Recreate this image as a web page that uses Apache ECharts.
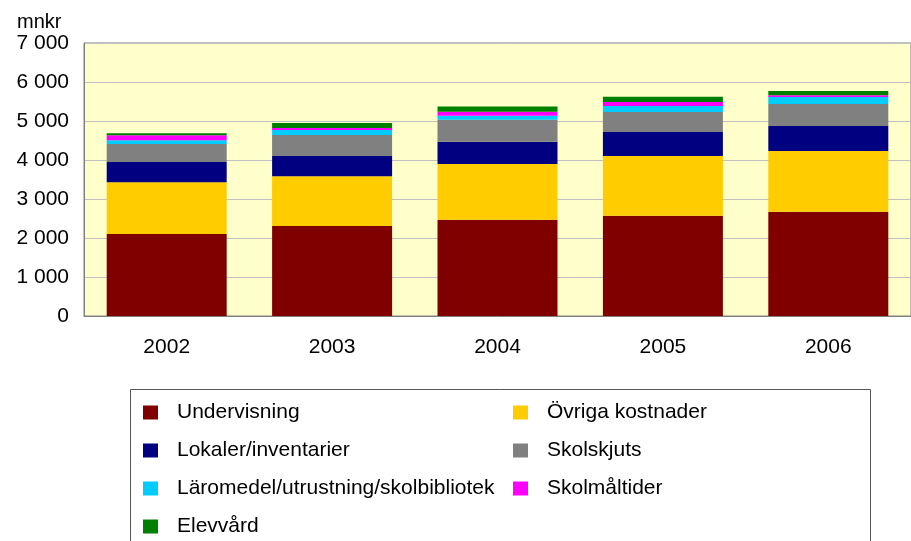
<!DOCTYPE html>
<html>
<head>
<meta charset="utf-8">
<style>
  html, body { margin: 0; padding: 0; background: #fff; }
  #chart { width: 911px; height: 541px; }
</style>
<script src="https://cdn.jsdelivr.net/npm/echarts@6/dist/echarts.min.js"></script>
</head>
<body>
<div id="chart"></div>
<script>
  // år
  const years = ['2002', '2003', '2004', '2005', '2006'];
  // mnkr per kostnadsslag
  const undervisning = [2100, 2310, 2470, 2570, 2670];
  const ovriga = [1330, 1275, 1430, 1530, 1560];
  const lokaler = [520, 515, 565, 615, 640];
  const skolskjuts = [460, 540, 565, 515, 565];
  const laromedel = [95, 130, 105, 155, 180];
  const skolmaltider = [130, 50, 105, 105, 45];
  const elevvard = [50, 130, 130, 130, 110];
  const yTicks = [0, 1000, 2000, 3000, 4000, 5000, 6000, 7000];

  const font = 'Liberation Sans, Arial, sans-serif';
  const chart = echarts.init(document.getElementById('chart'));

  // col/row = plats i förklaringsrutan
  const seriesDefs = [
    { name: 'Undervisning', data: undervisning, color: '#800000', col: 0, row: 0 },
    { name: 'Övriga kostnader', data: ovriga, color: '#FFCC00', col: 1, row: 0 },
    { name: 'Lokaler/inventarier', data: lokaler, color: '#000080', col: 0, row: 1 },
    { name: 'Skolskjuts', data: skolskjuts, color: '#808080', col: 1, row: 1 },
    { name: 'Läromedel/utrustning/skolbibliotek', data: laromedel, color: '#00CCFF', col: 0, row: 2 },
    { name: 'Skolmåltider', data: skolmaltider, color: '#FF00FF', col: 1, row: 2 },
    { name: 'Elevvård', data: elevvard, color: '#008000', col: 0, row: 3 },
  ];

  const legends = seriesDefs.map((s) => ({
    left: s.col === 0 ? 138 : 508,
    top: 397 + s.row * 38,
    icon: 'rect',
    itemWidth: 15,
    itemHeight: 14,
    selectedMode: false,
    data: [s.name],
    textStyle: {
      fontFamily: font,
      fontSize: 21,
      color: '#000',
      lineHeight: 14,
      padding: [0, 0, 0, 14],
    },
  }));

  const option = {
    animation: false,
    textStyle: { fontFamily: font },
    title: {
      text: 'mnkr',
      left: 12,
      top: 7,
      textStyle: { fontFamily: font, fontSize: 20, fontWeight: 'normal', color: '#000' },
    },
    legend: legends,
    graphic: [
      {
        type: 'rect',
        shape: { x: 130.5, y: 389.5, width: 740, height: 170 },
        style: { fill: 'none', stroke: '#555', lineWidth: 1 },
        z: -1,
      },
    ],
    grid: {
      left: 84,
      top: 43,
      width: 834,
      height: 273,
      show: true,
      backgroundColor: '#FFFFCC',
      borderColor: '#808080',
      borderWidth: 1,
    },
    xAxis: {
      type: 'category',
      data: years,
      axisLine: { show: true, lineStyle: { color: '#808080' } },
      axisTick: { show: false },
      axisLabel: { fontFamily: font, fontSize: 21, color: '#000', margin: 21 },
    },
    yAxis: {
      type: 'value',
      min: yTicks[0],
      max: yTicks[yTicks.length - 1],
      interval: yTicks[1] - yTicks[0],
      axisLine: { show: true, lineStyle: { color: '#808080' } },
      axisTick: { show: false },
      splitLine: { show: true, lineStyle: { color: '#C0C0C0', width: 1 } },
      axisLabel: {
        fontFamily: font,
        fontSize: 21,
        color: '#000',
        margin: 15,
        formatter: (v) => String(v).replace(/\B(?=(\d{3})+(?!\d))/g, ' '),
      },
    },
    series: seriesDefs.map((s) => ({
      name: s.name,
      type: 'bar',
      stack: 'total',
      barWidth: 120,
      data: s.data,
      itemStyle: { color: s.color },
    })),
  };

  chart.setOption(option);
</script>
</body>
</html>
